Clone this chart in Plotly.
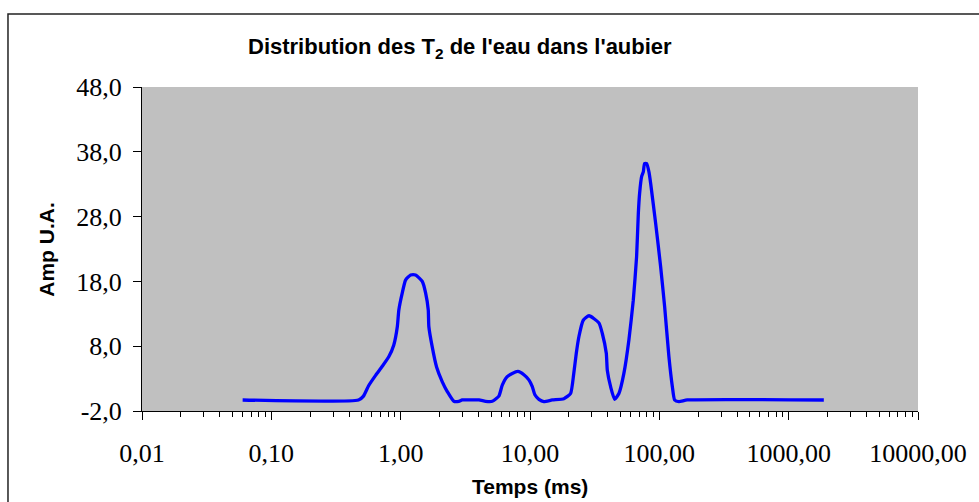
import plotly.graph_objects as go

# T2 relaxation times (ms) and amplitudes (arbitrary units)
t2_ms = [0.06, 0.472, 0.516, 0.565, 0.640, 0.721, 0.811, 0.885, 0.942, 0.968,
         1.028, 1.091, 1.194, 1.304, 1.469, 1.560, 1.634, 1.652, 1.754, 1.895,
         2.098, 2.293, 2.578, 2.818, 2.992, 4.025, 4.536, 5.105, 5.746, 6.105,
         6.668, 7.29, 8.06, 8.97, 9.80, 10.42, 10.91, 11.72, 12.80, 14.86,
         18.28, 20.6, 21.8, 22.8, 23.9, 25.8, 28.6, 34.1, 36.2, 38.9,
         39.6, 42.0, 45.1, 48.7, 53.2, 58.2, 62.9, 66.7, 68.8, 70.4,
         73.0, 75.2, 76.9, 79.8, 83.1, 85.7, 93.6, 102.3, 109.9, 118.6,
         126.1, 131.3, 141.8, 164.6, 1870.0]
amplitude = [-0.3, -0.3, 0.3, 1.9, 3.5, 4.9, 6.4, 8.2, 11.0, 13.6,
             16.2, 18.2, 19.0, 19.0, 18.0, 16.2, 13.6, 11.0, 7.9, 4.8,
             2.5, 1.0, -0.5, -0.5, -0.3, -0.3, -0.5, -0.5, 0.3, 2.0,
             3.3, 3.8, 4.1, 3.6, 2.8, 1.75, 0.5, -0.2, -0.55, -0.3,
             -0.1, 0.7, 3.8, 6.9, 9.5, 12.0, 12.7, 11.6, 10.0, 6.9,
             4.3, 1.75, -0.2, 0.7, 3.8, 9.0, 15.1, 21.8, 28.5, 31.6,
             34.2, 34.9, 36.2, 36.2, 34.9, 33.1, 27.0, 20.3, 14.1, 6.4,
             1.75, -0.3, -0.55, -0.3, -0.3]

x_tickvals = [0.01, 0.1, 1, 10, 100, 1000, 10000]
x_ticktext = ["0,01", "0,10", "1,00", "10,00", "100,00", "1000,00", "10000,00"]
y_tickvals = [-2, 8, 18, 28, 38, 48]
y_ticktext = ["-2,0", "8,0", "18,0", "28,0", "38,0", "48,0"]
x_minor = [m * 10 ** e for e in range(-2, 4) for m in range(2, 10)]

serif = "Liberation Serif, Times New Roman, serif"
sans = "Liberation Sans, Arial, sans-serif"

fig = go.Figure(go.Scatter(
    x=t2_ms, y=amplitude, mode="lines",
    line=dict(color="#0000FF", width=3.3, shape="spline", smoothing=0.5),
    hoverinfo="skip", showlegend=False,
))

fig.update_layout(
    width=979, height=502,
    margin=dict(l=142, r=61, t=87, b=91),
    paper_bgcolor="white", plot_bgcolor="#C0C0C0",
    showlegend=False,
    xaxis=dict(
        type="log", range=[-2, 4], showgrid=False, zeroline=False,
        showline=True, linecolor="black", linewidth=1,
        ticks="outside", ticklen=8, tickcolor="black", tickwidth=1,
        tickvals=x_tickvals, ticktext=x_ticktext,
        tickfont=dict(family=serif, size=26, color="black"),
        ticklabelstandoff=11,
        minor=dict(tickvals=x_minor, ticks="outside", ticklen=5,
                   tickcolor="black", tickwidth=1, showgrid=False),
    ),
    yaxis=dict(
        range=[-2, 48], showgrid=False, zeroline=False,
        showline=True, linecolor="black", linewidth=1,
        ticks="outside", ticklen=8, tickcolor="black", tickwidth=1,
        tickvals=y_tickvals, ticktext=y_ticktext,
        tickfont=dict(family=serif, size=26, color="black"),
        ticklabelstandoff=6,
    ),
    annotations=[
        dict(text="<b>Distribution des T<sub>2</sub> de l'eau dans l'aubier</b>",
             xref="paper", yref="paper", x=0.410, y=1.120, xanchor="center",
             yanchor="middle", showarrow=False,
             font=dict(family=sans, size=22, color="black")),
        dict(text="<b>Amp U.A.</b>", xref="paper", yref="paper",
             x=-0.124, y=0.5, textangle=-90, xanchor="center",
             yanchor="middle", showarrow=False,
             font=dict(family=sans, size=21, color="black")),
        dict(text="<b>Temps (ms)</b>", xref="paper", yref="paper",
             x=0.4996, y=-0.2315, xanchor="center", yanchor="middle",
             showarrow=False,
             font=dict(family=sans, size=21, color="black")),
    ],
    shapes=[
        dict(type="rect", xref="paper", yref="paper",
             x0=-0.1727, x1=1.09, y0=-0.32, y1=1.2253,
             line=dict(color="#222222", width=1.5), fillcolor="rgba(0,0,0,0)",
             layer="below"),
    ],
)

fig.write_html("out.html")
